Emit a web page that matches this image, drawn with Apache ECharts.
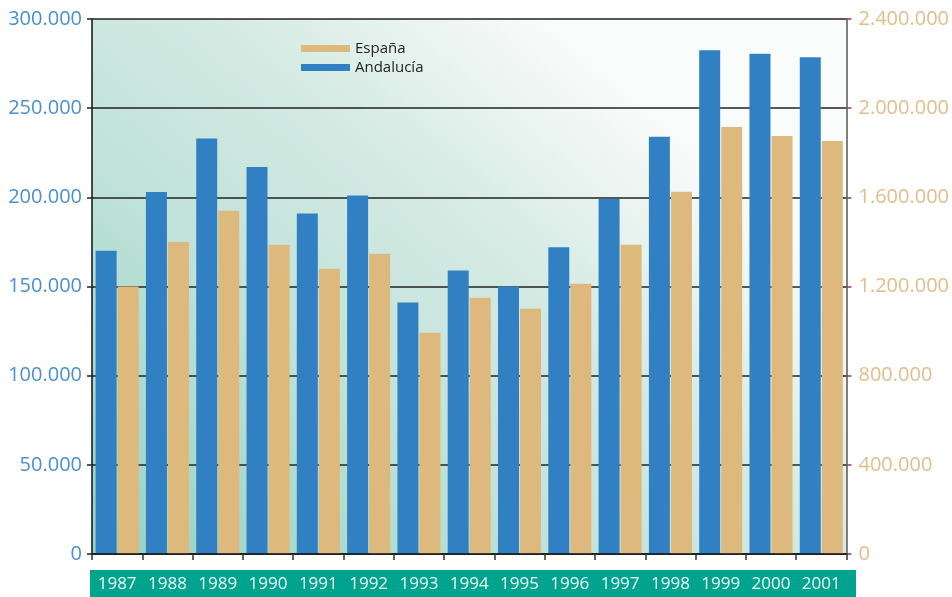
<!DOCTYPE html>
<html>
<head>
<meta charset="utf-8">
<script src="https://cdn.jsdelivr.net/npm/echarts@6/dist/echarts.min.js"></script>
<style>
  html, body { margin: 0; padding: 0; background: #fff; }
  #chart { width: 952px; height: 597px; }
</style>
</head>
<body>
<div id="chart"></div>
<script>
// años
const years = ['1987', '1988', '1989', '1990', '1991', '1992', '1993', '1994',
  '1995', '1996', '1997', '1998', '1999', '2000', '2001'];
// eje izquierdo
const andalucia = [170000, 203000, 233000, 217000, 191000, 201000, 141000, 159000,
  150000, 172000, 199000, 234000, 282500, 280500, 278500];
// eje derecho
const espana = [1200000, 1400000, 1540000, 1387000, 1280000, 1347000, 992000, 1150000,
  1100000, 1212000, 1387000, 1625000, 1916000, 1875000, 1853000];

const fontFam = '"Open Sans", sans-serif';
const blue = '#3180c3';
const tan = '#ddb97e';

// separador de miles con punto
function fmt(v) {
  return String(v).replace(/\B(?=(\d{3})+(?!\d))/g, '.');
}

const myChart = echarts.init(document.getElementById('chart'));

myChart.setOption({
  animation: false,
  backgroundColor: '#fff',
  textStyle: { fontFamily: fontFam },
  grid: {
    left: 92, right: 105, top: 19, bottom: 43,
    show: true,
    borderWidth: 0,
    backgroundColor: new echarts.graphic.LinearGradient(0, 1, 0.6, 0, [
      { offset: 0, color: '#95d2c2' },
      { offset: 0.45, color: '#c2e3da' },
      { offset: 0.7, color: '#d4eae3' },
      { offset: 1, color: '#fafbfb' }
    ])
  },
  graphic: [{
    type: 'rect',
    z: -10,
    shape: { x: 90, y: 570, width: 766, height: 27 },
    style: { fill: '#00a48e' }
  }],
  legend: {
    data: ['España', 'Andalucía'],
    orient: 'vertical',
    left: 296,
    top: 36,
    itemWidth: 49,
    itemHeight: 7,
    itemGap: 4,
    icon: 'rect',
    textStyle: { fontSize: 15, color: '#222', fontFamily: fontFam }
  },
  xAxis: {
    type: 'category',
    data: years,
    axisLine: { lineStyle: { color: '#111', width: 1.5 } },
    axisTick: { show: true, length: 6, interval: 0, lineStyle: { color: '#333', width: 1.5 } },
    axisLabel: { color: '#eef9f5', fontSize: 17, margin: 22, interval: 0, fontFamily: fontFam },
    z: 5
  },
  yAxis: [{
    type: 'value',
    min: 0, max: 300000, interval: 50000,
    axisLine: { show: true, lineStyle: { color: '#111', width: 1.5 } },
    axisTick: { show: true, length: 5, lineStyle: { color: '#222', width: 1.5 } },
    axisLabel: { color: '#4a90d0', fontSize: 20, margin: 10, formatter: fmt, fontFamily: fontFam },
    splitLine: { show: true, lineStyle: { color: '#222', width: 1.5 } }
  }, {
    type: 'value',
    min: 0, max: 2400000, interval: 400000,
    axisLine: { show: true, lineStyle: { color: '#555', width: 1.5 } },
    axisTick: { show: true, length: 5, lineStyle: { color: '#a0306a', width: 1.5 } },
    axisLabel: { color: '#e0be8a', fontSize: 20, margin: 12, formatter: fmt, fontFamily: fontFam },
    splitLine: { show: false }
  }],
  series: [{
    name: 'Andalucía',
    type: 'bar',
    yAxisIndex: 0,
    data: andalucia,
    barWidth: 21,
    barGap: '5%',
    itemStyle: { color: blue }
  }, {
    name: 'España',
    type: 'bar',
    yAxisIndex: 1,
    data: espana,
    barWidth: 21,
    barGap: '5%',
    itemStyle: { color: tan }
  }]
});
</script>
</body>
</html>
